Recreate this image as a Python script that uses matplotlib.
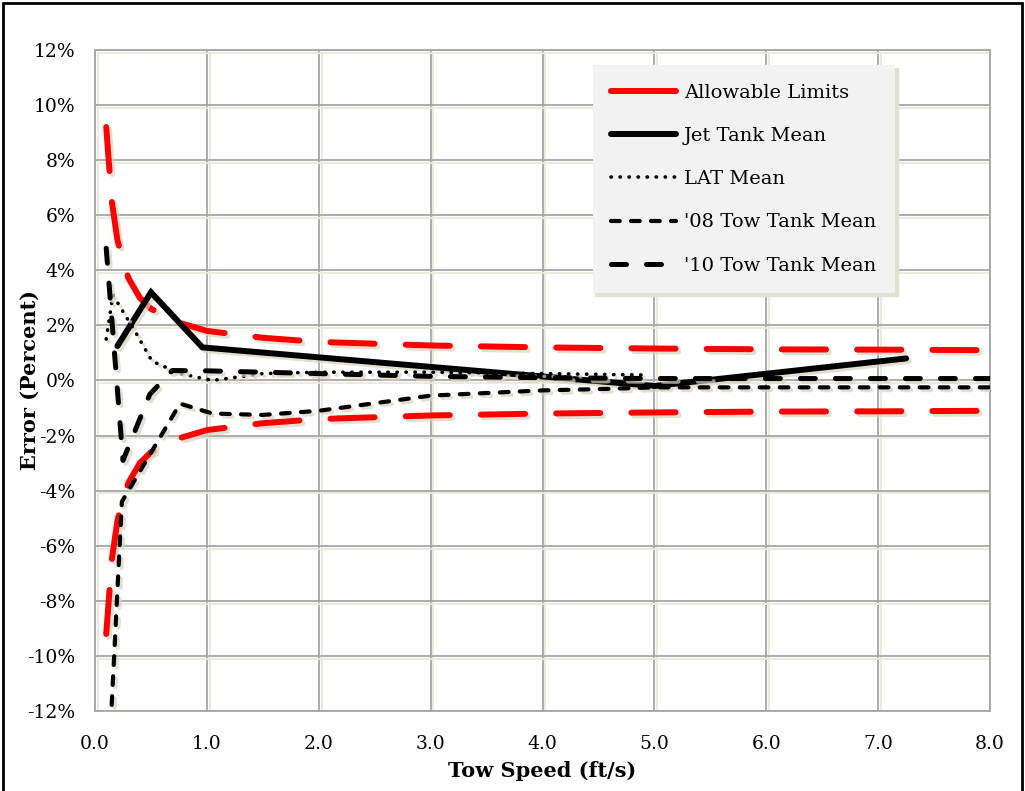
import matplotlib
matplotlib.use("Agg")
import matplotlib.pyplot as plt
import matplotlib.patheffects as pe
from matplotlib.patches import Rectangle
from matplotlib.ticker import FuncFormatter, MultipleLocator

plt.rcParams['font.family'] = ['DejaVu Serif']

# allowable limits (upper, lower is mirrored)
limit_x = [0.1, 0.15, 0.2, 0.25, 0.3, 0.4, 0.5, 0.6, 0.75, 1.0, 1.5, 2.0, 3.0, 4.0, 5.0, 6.0, 7.0, 8.0]
limit_up = [9.2, 6.5, 5.1, 4.3, 3.7, 3.0, 2.6, 2.4, 2.1, 1.8, 1.55, 1.4, 1.27, 1.2, 1.16, 1.13, 1.12, 1.1]
limit_lo = [-v for v in limit_up]

jet_x = [0.2, 0.5, 0.96, 5.0, 7.25]
jet_y = [1.25, 3.2, 1.2, -0.2, 0.8]

lat_x = [0.1, 0.16, 0.37, 0.51, 0.76, 1.05, 1.5, 2.0, 3.0, 4.0, 4.9]
lat_y = [1.5, 3.1, 1.7, 0.7, 0.25, 0.0, 0.25, 0.3, 0.3, 0.25, 0.2]

tow08_x = [0.14, 0.24, 0.76, 1.05, 1.5, 2.0, 3.0, 4.0, 4.64, 5.0, 8.0]
tow08_y = [-12.5, -4.4, -0.84, -1.2, -1.25, -1.1, -0.55, -0.36, -0.3, -0.25, -0.25]

tow10_x = [0.1, 0.25, 0.33, 0.49, 0.69, 1.0, 2.0, 3.0, 4.0, 5.0, 8.0]
tow10_y = [4.8, -2.9, -2.1, -0.5, 0.36, 0.35, 0.25, 0.15, 0.1, 0.07, 0.07]

fig = plt.figure(figsize=(10.25, 7.91), dpi=100)
ax = fig.add_axes([0.0927, 0.101, 0.8732, 0.836])

shadow = [pe.SimpleLineShadow(offset=(2, -2), shadow_color='#d8d3bf', alpha=0.7), pe.Normal()]

ax.plot(limit_x, limit_up, color='#ff0000', lw=4.3, linestyle=(0, (7.4, 5.2)),
        solid_capstyle='round', dash_capstyle='round', path_effects=shadow, label='Allowable Limits', zorder=3)
ax.plot(limit_x, limit_lo, color='#ff0000', lw=4.3, linestyle=(0, (7.4, 5.2)),
        dash_capstyle='round', path_effects=shadow, zorder=3)
ax.plot(jet_x, jet_y, color='black', lw=4.3, solid_capstyle='round', solid_joinstyle='miter',
        path_effects=shadow, label='Jet Tank Mean', zorder=4)
ax.plot(lat_x, lat_y, color='black', lw=2.6, linestyle=(0, (0.1, 2.4)), dash_capstyle='round',
        path_effects=shadow, label='LAT Mean', zorder=4)
ax.plot(tow08_x, tow08_y, color='black', lw=3.0, linestyle=(0, (2.1, 2.7)), dash_capstyle='round',
        path_effects=shadow, label="'08 Tow Tank Mean", zorder=4)
ax.plot(tow10_x, tow10_y, color='black', lw=3.6, linestyle=(0, (3.0, 4.0)), dash_capstyle='round',
        path_effects=shadow, label="'10 Tow Tank Mean", zorder=4)

ax.set_xlim(0, 8)
ax.set_ylim(-12, 12)
ax.xaxis.set_major_locator(MultipleLocator(1))
ax.yaxis.set_major_locator(MultipleLocator(2))
ax.xaxis.set_major_formatter(FuncFormatter(lambda v, p: f"{v:.1f}"))
ax.yaxis.set_major_formatter(FuncFormatter(lambda v, p: f"{v:.0f}%"))
ax.grid(True, color='#a6a6a6', lw=1.3,
        path_effects=[pe.SimpleLineShadow(offset=(2, -2), shadow_color='#ebe8dc', alpha=1), pe.Normal()])
ax.set_axisbelow(True)
for s in ax.spines.values():
    s.set_color('#a6a6a6')
    s.set_linewidth(1.3)
ax.tick_params(length=0, labelsize=13.5)
ax.tick_params(axis='y', pad=14)
ax.tick_params(axis='x', pad=17)

ax.set_xlabel('Tow Speed (ft/s)', fontsize=15, fontweight='bold', labelpad=6)
ax.set_ylabel('Error (Percent)', fontsize=15, fontweight='bold', labelpad=-9)

leg = ax.legend(loc='upper left', bbox_to_anchor=(0.556, 0.977), fontsize=14,
                frameon=True, fancybox=False, framealpha=1, facecolor='#f2f2f2', edgecolor='none',
                handlelength=3.35, handletextpad=0.4, labelspacing=1.3, borderpad=0.95,
                borderaxespad=0, shadow={'color': '#e3e0d2', 'alpha': 1})
for h in leg.get_lines():
    h.set_path_effects([])
leg.get_lines()[0].set_linestyle('-')
leg.get_lines()[0].set_solid_capstyle('round')

fig.patches.append(Rectangle((0.003, -0.01), 0.994, 1.006, transform=fig.transFigure,
                             fill=False, edgecolor='black', lw=2))

fig.savefig('out.png', dpi=100)
